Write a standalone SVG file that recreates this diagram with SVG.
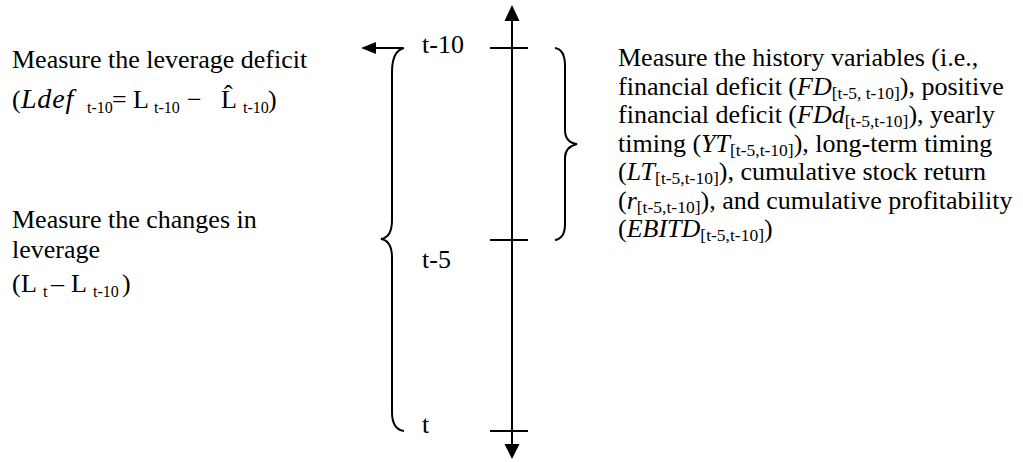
<svg xmlns="http://www.w3.org/2000/svg" width="1023" height="462" viewBox="0 0 1023 462">
<style>
text{font-family:"Liberation Serif","Times New Roman",serif;font-size:26px;fill:#000}
.i{font-style:italic}
.s{font-size:17.5px}
.f{font-size:16px}
.ln{stroke:#000;stroke-width:2;fill:none}
.hd{fill:#000;stroke:none}
</style>
<rect width="1023" height="462" fill="#fff"/>
<g id="connectors">
<line class="ln" x1="512" y1="19" x2="512" y2="446"/>
<polygon class="hd" points="512,5 504.5,21 519.5,21"/>
<polygon class="hd" points="512,459 504.5,444 519.5,444"/>
<line class="ln" x1="403" y1="48" x2="374" y2="48"/>
<polygon class="hd" points="361,48 376,42 376,54"/>
</g>
<g id="axis-ticks">
<line class="ln" x1="490" y1="48" x2="528" y2="48"/>
<line class="ln" x1="490" y1="240" x2="528" y2="240"/>
<line class="ln" x1="490" y1="431" x2="528" y2="431"/>
</g>
<g id="label-t10"><text x="422" y="53">t-10</text></g>
<g id="label-t5"><text x="422" y="268">t-5</text></g>
<g id="label-t"><text x="422" y="433">t</text></g>
<g id="left-brace">
<path class="ln" d="M404,48 C396,50 392,58 392,72 L392,220 C392,232 388,238 381,239 C388,240 392,246 392,258 L392,412 C392,424 396,430 404,431"/>
</g>
<g id="right-brace">
<path class="ln" d="M555,48 C562,49 565,56 565,66 L565,130 C565,138 569,143 577,144 C569,146 565,150 565,158 L565,224 C565,234 562,239 555,240"/>
</g>
<g id="leverage-deficit">
<text x="12" y="68">Measure the leverage deficit</text>
<text y="108"><tspan x="12">(</tspan><tspan class="i" x="21" font-size="28" letter-spacing="0.8">Ldef</tspan><tspan class="f" x="87" dy="5">t-10</tspan><tspan x="112" dy="-5">=</tspan><tspan x="133">L</tspan><tspan class="f" x="154" dy="5">t-10</tspan><tspan x="187" dy="-5">−</tspan><tspan x="221">L</tspan><tspan class="f" x="243" dy="5">t-10</tspan><tspan x="268" dy="-5">)</tspan></text>
<text x="224" y="103" font-size="24">ˆ</text>
</g>
<g id="leverage-change">
<text x="12" y="228">Measure the changes in</text>
<text x="12" y="258">leverage</text>
<text y="292"><tspan x="12">(</tspan><tspan x="21">L</tspan><tspan class="f" x="43" dy="5">t</tspan><tspan x="51" dy="-5">–</tspan><tspan x="71">L</tspan><tspan class="f" x="93" dy="5">t-10</tspan><tspan x="122" dy="-5">)</tspan></text>
</g>
<g id="history-variables">
<text x="618" y="66">Measure the history variables (i.e.,</text>
<text x="618" y="94.5">financial deficit (<tspan class="i">FD</tspan><tspan class="s" dy="4">[t-5, t-10]</tspan><tspan dy="-4">), positive</tspan></text>
<text x="618" y="123">financial deficit (<tspan class="i">FDd</tspan><tspan class="s" dy="4">[t-5,t-10]</tspan><tspan dy="-4">), yearly</tspan></text>
<text x="618" y="151.5">timing (<tspan class="i">YT</tspan><tspan class="s" dy="4">[t-5,t-10]</tspan><tspan dy="-4">), long-term timing</tspan></text>
<text x="618" y="180">(<tspan class="i">LT</tspan><tspan class="s" dy="4">[t-5,t-10]</tspan><tspan dy="-4">), cumulative stock return</tspan></text>
<text x="618" y="208.5">(<tspan class="i">r</tspan><tspan class="s" dy="4">[t-5,t-10]</tspan><tspan dy="-4">), and cumulative profitability</tspan></text>
<text x="618" y="237">(<tspan class="i">EBITD</tspan><tspan class="s" dy="4">[t-5,t-10]</tspan><tspan dy="-4">)</tspan></text>
</g>
</svg>
